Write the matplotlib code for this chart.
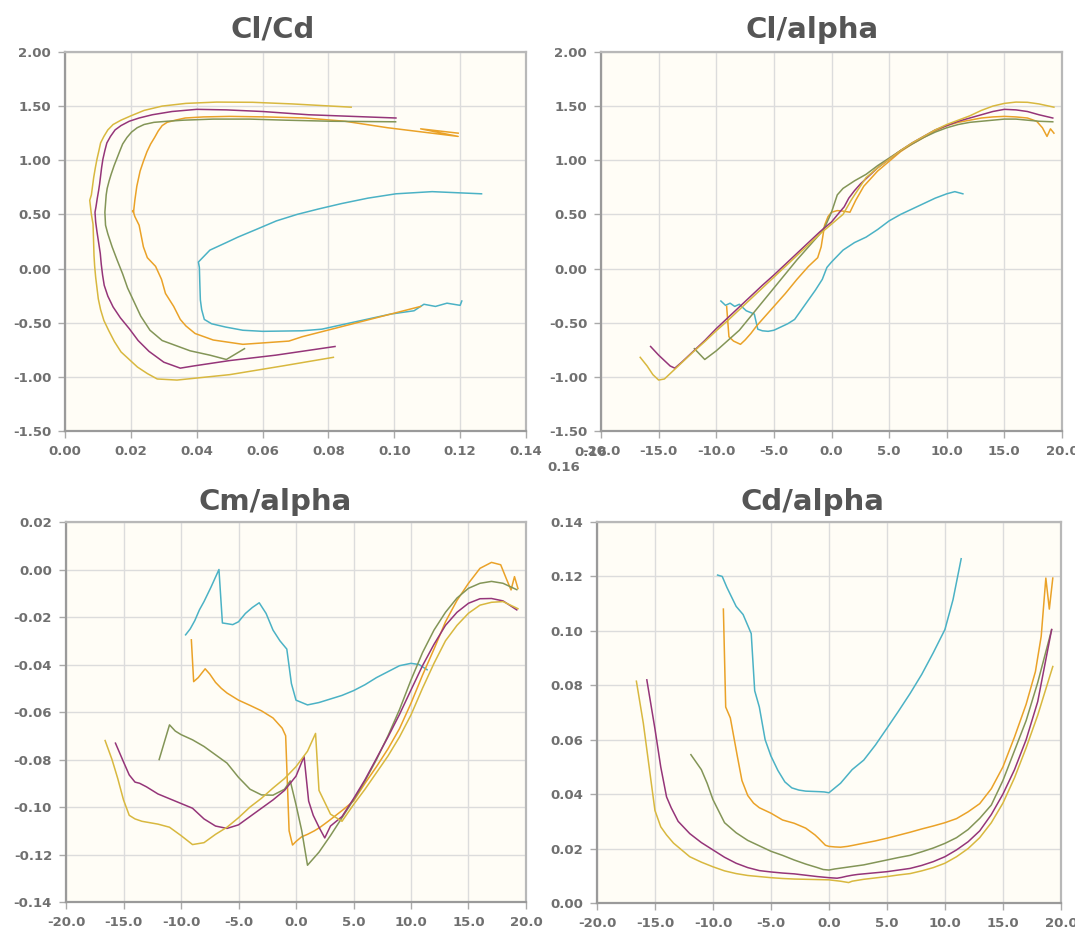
import matplotlib
matplotlib.use("Agg")
import matplotlib.pyplot as plt
from matplotlib.ticker import FormatStrFormatter

# polar data for five airfoils: alpha [deg], Cl, Cd, Cm
teal_alpha = [-9.6, -9.2, -8.8, -8.4, -8.0, -7.4, -6.7, -6.4, -6.0, -5.5, -5.0, -4.4, -3.8, -3.2,
              -2.6, -2.0, -1.4, -0.8, -0.4, 0.0, 1.0, 2.0, 3.0, 4.0, 5.0, 6.0, 7.0, 8.0, 9.0,
              10.0, 10.7, 11.4]
teal_cl = [-0.30, -0.34, -0.32, -0.35, -0.33, -0.39, -0.42, -0.56, -0.575, -0.58, -0.57, -0.54,
           -0.51, -0.47, -0.38, -0.29, -0.20, -0.10, 0.01, 0.06, 0.17, 0.24, 0.29, 0.36, 0.44,
           0.50, 0.55, 0.60, 0.65, 0.69, 0.71, 0.69]
teal_cd = [0.1205, 0.1200, 0.1160, 0.1125, 0.1090, 0.1060, 0.0990, 0.0780, 0.0720, 0.0600,
           0.0540, 0.0487, 0.0445, 0.0423, 0.0415, 0.0411, 0.0410, 0.0409, 0.0408, 0.0405,
           0.0440, 0.0490, 0.0525, 0.0580, 0.0642, 0.0705, 0.0770, 0.0840, 0.0920, 0.1005,
           0.1115, 0.1265]
teal_cm = [-0.0275, -0.0250, -0.0215, -0.0170, -0.0135, -0.0075, 0.0000, -0.0225, -0.0228,
           -0.0232, -0.0220, -0.0185, -0.0160, -0.0140, -0.0185, -0.0255, -0.0300, -0.0335,
           -0.0480, -0.0550, -0.0570, -0.0560, -0.0545, -0.0530, -0.0510, -0.0485, -0.0455,
           -0.0430, -0.0405, -0.0395, -0.0400, -0.0422]

orange_alpha = [-9.1, -8.9, -8.5, -7.9, -7.5, -7.0, -6.5, -6.0, -5.0, -4.0, -3.0, -2.0, -1.2,
                -0.9, -0.6, -0.3, 0.0, 0.5, 1.0, 1.6, 2.1, 2.8, 4.0, 5.0, 6.0, 7.0, 8.0, 9.0,
                10.0, 11.0, 12.0, 13.0, 14.0, 15.0, 16.0, 17.0, 17.8, 18.3, 18.7, 19.0, 19.3]
orange_cl = [-0.35, -0.63, -0.67, -0.70, -0.66, -0.60, -0.53, -0.47, -0.35, -0.23, -0.10, 0.02,
             0.10, 0.20, 0.40, 0.48, 0.52, 0.535, 0.53, 0.52, 0.63, 0.76, 0.90, 0.99, 1.08,
             1.15, 1.21, 1.27, 1.32, 1.35, 1.37, 1.39, 1.40, 1.405, 1.40, 1.39, 1.36, 1.30,
             1.22, 1.29, 1.25]
orange_cd = [0.1080, 0.0720, 0.0680, 0.0540, 0.0450, 0.0395, 0.0367, 0.0350, 0.0330, 0.0305,
             0.0293, 0.0275, 0.0250, 0.0238, 0.0225, 0.0212, 0.0208, 0.0206, 0.0205, 0.0208,
             0.0212, 0.0218, 0.0228, 0.0238, 0.0249, 0.0260, 0.0272, 0.0283, 0.0295, 0.0310,
             0.0335, 0.0365, 0.0420, 0.0500, 0.0610, 0.0730, 0.0850, 0.0980, 0.1194, 0.1080,
             0.1194]
orange_cm = [-0.0296, -0.0472, -0.0455, -0.0418, -0.0440, -0.0475, -0.0500, -0.0520, -0.0550,
             -0.0572, -0.0595, -0.0625, -0.0668, -0.0700, -0.1100, -0.1160, -0.1145, -0.1125,
             -0.1115, -0.1100, -0.1085, -0.1060, -0.1015, -0.0975, -0.0900, -0.0830, -0.0755,
             -0.0670, -0.0563, -0.0445, -0.0335, -0.0220, -0.0130, -0.0058, 0.0005, 0.0030,
             0.0020, -0.0040, -0.0086, -0.0030, -0.0080]

olive_alpha = [-11.9, -11.0, -10.5, -10.0, -9.0, -8.0, -7.0, -6.0, -5.0, -4.0, -3.0, -2.0,
               -1.0, -0.5, 0.0, 0.5, 1.0, 2.0, 3.0, 4.0, 5.0, 6.0, 7.0, 8.0, 9.0, 10.0, 11.0,
               12.0, 13.0, 14.0, 15.0, 16.0, 17.0, 18.0, 19.2]
olive_cl = [-0.74, -0.84, -0.80, -0.76, -0.665, -0.57, -0.44, -0.31, -0.18, -0.05, 0.08, 0.20,
            0.32, 0.40, 0.52, 0.68, 0.74, 0.81, 0.87, 0.95, 1.02, 1.09, 1.15, 1.21, 1.26, 1.30,
            1.33, 1.35, 1.36, 1.37, 1.38, 1.38, 1.37, 1.36, 1.355]
olive_cd = [0.0545, 0.0490, 0.0440, 0.0380, 0.0295, 0.0258, 0.0230, 0.0210, 0.0190, 0.0175,
            0.0158, 0.0143, 0.0130, 0.0123, 0.0121, 0.0125, 0.0128, 0.0134, 0.0140, 0.0149,
            0.0158, 0.0167, 0.0175, 0.0188, 0.0202, 0.0219, 0.0240, 0.0270, 0.0311, 0.0360,
            0.0450, 0.0560, 0.0670, 0.0810, 0.1004]
olive_cm = [-0.0800, -0.0654, -0.0680, -0.0695, -0.0717, -0.0745, -0.0780, -0.0815, -0.0875,
            -0.0925, -0.0949, -0.0950, -0.0925, -0.0890, -0.0990, -0.1100, -0.1245, -0.1190,
            -0.1120, -0.1045, -0.0970, -0.0890, -0.0800, -0.0700, -0.0590, -0.0465, -0.0350,
            -0.0255, -0.0180, -0.0120, -0.0079, -0.0058, -0.0050, -0.0058, -0.0085]

purple_alpha = [-15.7, -15.0, -14.5, -14.0, -13.6, -13.0, -12.0, -11.0, -10.0, -9.0, -8.0, -7.0,
                -6.0, -5.0, -4.0, -3.0, -2.0, -1.0, 0.0, 0.7, 1.1, 1.5, 2.0, 2.5, 3.0, 4.0,
                5.0, 6.0, 7.0, 8.0, 9.0, 10.0, 11.0, 12.0, 13.0, 14.0, 15.0, 16.0, 17.0, 18.0,
                19.2]
purple_cl = [-0.72, -0.80, -0.85, -0.90, -0.92, -0.865, -0.765, -0.665, -0.555, -0.455, -0.355,
             -0.255, -0.155, -0.06, 0.04, 0.14, 0.24, 0.34, 0.43, 0.52, 0.57, 0.65, 0.72, 0.78,
             0.83, 0.93, 1.01, 1.09, 1.16, 1.22, 1.28, 1.32, 1.36, 1.39, 1.42, 1.45, 1.47,
             1.465, 1.45, 1.42, 1.39]
purple_cd = [0.0820, 0.0640, 0.0500, 0.0390, 0.0350, 0.0300, 0.0255, 0.0222, 0.0195, 0.0168,
             0.0146, 0.0130, 0.0119, 0.0114, 0.0110, 0.0107, 0.0102, 0.0097, 0.0093, 0.0091,
             0.0094, 0.0098, 0.0102, 0.0105, 0.0107, 0.0111, 0.0115, 0.0121, 0.0127, 0.0138,
             0.0152, 0.0170, 0.0195, 0.0225, 0.0265, 0.0325, 0.0400, 0.0490, 0.0600, 0.0740,
             0.1005]
purple_cm = [-0.0731, -0.0810, -0.0865, -0.0895, -0.0900, -0.0915, -0.0945, -0.0965, -0.0985,
             -0.1005, -0.1050, -0.1080, -0.1090, -0.1075, -0.1040, -0.1005, -0.0970, -0.0930,
             -0.0870, -0.0787, -0.0975, -0.1035, -0.1085, -0.1130, -0.1080, -0.1040, -0.0965,
             -0.0885, -0.0795, -0.0705, -0.0610, -0.0507, -0.0405, -0.0315, -0.0235, -0.0180,
             -0.0142, -0.0123, -0.0122, -0.0132, -0.0170]

sand_alpha = [-16.6, -16.0, -15.5, -15.0, -14.5, -14.0, -13.4, -12.0, -11.0, -10.0, -9.0, -8.0,
              -7.0, -6.0, -5.0, -4.0, -3.0, -2.0, -1.0, 0.0, 1.0, 1.7, 2.0, 3.0, 4.0, 5.0, 6.0,
              7.0, 8.0, 9.0, 10.0, 11.0, 12.0, 13.0, 14.0, 15.0, 16.0, 17.0, 18.0, 19.3]
sand_cl = [-0.82, -0.90, -0.98, -1.03, -1.02, -0.97, -0.91, -0.77, -0.675, -0.575, -0.48,
           -0.38, -0.28, -0.18, -0.08, 0.02, 0.12, 0.22, 0.32, 0.41, 0.50, 0.63, 0.68, 0.84,
           0.93, 1.01, 1.09, 1.16, 1.22, 1.28, 1.33, 1.37, 1.41, 1.46, 1.50, 1.525, 1.537,
           1.535, 1.52, 1.49]
sand_cd = [0.0815, 0.0660, 0.0500, 0.0340, 0.0280, 0.0250, 0.0220, 0.0170, 0.0150, 0.0133,
           0.0118, 0.0108, 0.0101, 0.0097, 0.0093, 0.0090, 0.0088, 0.0087, 0.0086, 0.0085,
           0.0080, 0.0075, 0.0080, 0.0087, 0.0092, 0.0097, 0.0103, 0.0108, 0.0118, 0.0130,
           0.0146, 0.0170, 0.0200, 0.0240, 0.0295, 0.0367, 0.0460, 0.0570, 0.0690, 0.0869]
sand_cm = [-0.0720, -0.0800, -0.0880, -0.0970, -0.1035, -0.1050, -0.1060, -0.1072, -0.1085,
           -0.1120, -0.1158, -0.1150, -0.1115, -0.1085, -0.1045, -0.1000, -0.0963, -0.0920,
           -0.0880, -0.0830, -0.0765, -0.0690, -0.0930, -0.1030, -0.1060, -0.0990, -0.0925,
           -0.0855, -0.0785, -0.0705, -0.0612, -0.0500, -0.0395, -0.0300, -0.0235, -0.0184,
           -0.0150, -0.0138, -0.0135, -0.0165]

series = [
    ('#4bb2c5', teal_alpha, teal_cl, teal_cd, teal_cm),
    ('#eaa228', orange_alpha, orange_cl, orange_cd, orange_cm),
    ('#839557', olive_alpha, olive_cl, olive_cd, olive_cm),
    ('#953579', purple_alpha, purple_cl, purple_cd, purple_cm),
    ('#d8b83f', sand_alpha, sand_cl, sand_cd, sand_cm),
]

cl_ticks = [-1.5, -1.0, -0.5, 0.0, 0.5, 1.0, 1.5, 2.0]
cd_ticks_x = [0.0, 0.02, 0.04, 0.06, 0.08, 0.10, 0.12, 0.14]
alpha_ticks = [-20, -15, -10, -5, 0, 5, 10, 15, 20]
cm_ticks = [-0.14, -0.12, -0.10, -0.08, -0.06, -0.04, -0.02, 0.0, 0.02]
cd_ticks_y = [0.0, 0.02, 0.04, 0.06, 0.08, 0.10, 0.12, 0.14]

LABEL = '#707070'
TITLE = '#555555'
tick_font = dict(fontsize=9.5, color=LABEL, fontweight='bold')


def style(ax, xticks, xfmt, yticks, yfmt):
    ax.set_facecolor('#fffdf6')
    ax.set_xlim(xticks[0], xticks[-1])
    ax.set_ylim(yticks[0], yticks[-1])
    ax.set_xticks(xticks)
    ax.set_yticks(yticks)
    ax.xaxis.set_major_formatter(FormatStrFormatter(xfmt))
    ax.yaxis.set_major_formatter(FormatStrFormatter(yfmt))
    ax.grid(True, color='#dcdcdc', lw=1.0)
    ax.set_axisbelow(True)
    ax.tick_params(length=5, width=1, color='#aaaaaa', labelcolor=LABEL,
                   labelsize=9.5, pad=5)
    for lbl in ax.get_xticklabels() + ax.get_yticklabels():
        lbl.set_fontweight('bold')
    for side in ['left', 'bottom']:
        ax.spines[side].set_color('#9a9a9a')
        ax.spines[side].set_linewidth(1.6)
    for side in ['top', 'right']:
        ax.spines[side].set_color('#b8b8b8')
        ax.spines[side].set_linewidth(1.6)


fig = plt.figure(figsize=(10.75, 9.31), dpi=100)
ax_polar = fig.add_axes([0.0605, 0.5371, 0.4288, 0.4071])
ax_cl = fig.add_axes([0.5591, 0.5371, 0.4288, 0.4071])
ax_cm = fig.add_axes([0.0614, 0.0311, 0.4279, 0.4082])
ax_cd = fig.add_axes([0.5553, 0.0301, 0.4316, 0.4092])

for color, alpha, cl, cd, cm in series:
    ax_polar.plot(cd, cl, color=color, lw=1.1)
    ax_cl.plot(alpha, cl, color=color, lw=1.1)
    ax_cm.plot(alpha, cm, color=color, lw=1.1)
    ax_cd.plot(alpha, cd, color=color, lw=1.1)

style(ax_polar, cd_ticks_x, '%.2f', cl_ticks, '%.2f')
style(ax_cl, alpha_ticks, '%.1f', cl_ticks, '%.2f')
style(ax_cm, alpha_ticks, '%.1f', cm_ticks, '%.2f')
style(ax_cd, alpha_ticks, '%.1f', cd_ticks_y, '%.2f')

title_kw = dict(fontsize=21, color=TITLE, ha='center', va='baseline', fontweight='bold')
fig.text(273 / 1075, 1 - 38 / 931, 'Cl/Cd', **title_kw)
fig.text(812 / 1075, 1 - 38 / 931, 'Cl/alpha', **title_kw)
fig.text(275 / 1075, 1 - 510 / 931, 'Cm/alpha', **title_kw)
fig.text(812 / 1075, 1 - 510 / 931, 'Cd/alpha', **title_kw)

# stray overflow tick labels of the polar's x axis
fig.text(591 / 1075, 1 - 452 / 931, '0.16', ha='center', va='center', **tick_font)
fig.text(564 / 1075, 1 - 468 / 931, '0.16', ha='center', va='center', **tick_font)

fig.savefig('out.png', dpi=100)
